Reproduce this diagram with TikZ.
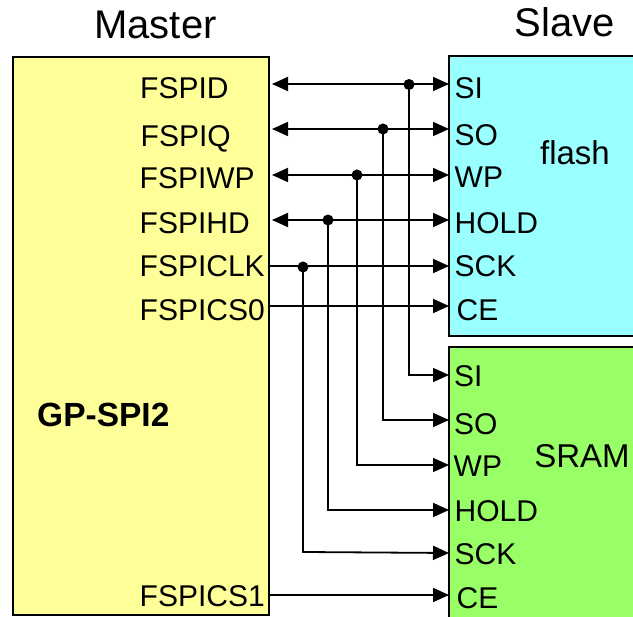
\documentclass[tikz,border=0pt]{standalone}
\usepackage{fontspec}
\setmainfont{Liberation Sans}
\usetikzlibrary{arrows.meta}
\definecolor{mastery}{HTML}{FFFF99}
\definecolor{flashc}{HTML}{99FFFF}
\definecolor{sramc}{HTML}{99FF66}
\tikzset{
 x=1pt,y=-1pt,
 box/.style={draw=black,line width=1.8pt,anchor=north west,inner sep=0,outer sep=0},
 lab/.style={font=\fontsize{30}{30}\selectfont,inner sep=0,text=black},
 mlab/.style={lab,anchor=base west},
 sig/.style={line width=1.8pt,-{Triangle[length=16pt,width=14pt]}},
 bi/.style={line width=1.8pt,{Triangle[length=16pt,width=14pt]}-{Triangle[length=16pt,width=14pt]}},
 dot/.style={circle,fill=black,inner sep=0,minimum size=11pt}
}
\begin{document}
\begin{tikzpicture}
\useasboundingbox (0,0) rectangle (633,617);
\path[box,fill=mastery] (13,57) rectangle (269,615);
\path[box,fill=flashc] (449,56) rectangle (640,336);
\path[box,fill=sramc] (449,347) rectangle (640,625);
\clip (0,0) rectangle (633,617);
\node[lab,font=\fontsize{40}{40}\selectfont] (mt) at (155.5,24.5) {Master};
\node[lab,font=\fontsize{40}{40}\selectfont] (st) at (564.5,22.5) {Slave};
\node[lab,font=\fontsize{33.5}{33.5}\selectfont\bfseries,anchor=base west] (gp) at (37,427) {GP-SPI2};
\node[lab,font=\fontsize{33}{33}\selectfont] (fl) at (575,153) {flash};
\node[lab,font=\fontsize{33}{33}\selectfont] (sr) at (582,456) {SRAM};
\foreach \n/\t/\x/\y in {a/FSPID/140/99,b/FSPIQ/140.5/147,c/FSPIWP/139.5/189,d/FSPIHD/139.5/234,e/FSPICLK/139.5/277,f/FSPICS0/139.5/321,g/FSPICS1/139.5/607}
 \node[mlab] (m\n) at (\x,\y) {\t};
\foreach \n/\t/\x/\y in {a/SI/454.5/99,b/SO/454.5/146,c/WP/454.5/188,d/HOLD/454.5/234,e/SCK/454.5/277,f/CE/456.5/321,
 h/SI/454/387,i/SO/454/434.5,j/WP/453.5/477,k/HOLD/454.5/522,l/SCK/454.5/565,m/CE/456.5/609}
 \node[mlab] (s\n) at (\x,\y) {\t};
\coordinate (la) at (272,84);\coordinate (ra) at (449,84);
\coordinate (lb) at (272,129);\coordinate (rb) at (449,129);
\coordinate (lc) at (272,175);\coordinate (rc) at (449,175);
\coordinate (ld) at (272,220);\coordinate (rd) at (449,220);
\coordinate (le) at (269,266);\coordinate (re) at (449,266);
\coordinate (lf) at (269,306);\coordinate (rf) at (449,306);
\coordinate (lg) at (269,595);\coordinate (rg) at (449,595);
\coordinate (rh) at (449,375);\coordinate (ri) at (449,420);
\coordinate (rj) at (449,465);\coordinate (rk) at (449,510);
\coordinate (rl) at (449,553);
\draw[bi] (la) -- (ra); \draw[bi] (lb) -- (rb); \draw[bi] (lc) -- (rc); \draw[bi] (ld) -- (rd);
\draw[sig] (le) -- (re); \draw[sig] (lf) -- (rf); \draw[sig] (lg) -- (rg);
\node[dot] (da) at (409,84.5) {};
\node[dot] (db) at (383,129) {};
\node[dot] (dc) at (357,175) {};
\node[dot] (dd) at (328,220) {};
\node[dot] (de) at (303,267) {};
\draw[sig] (da.center) |- (rh);
\draw[sig] (db.center) |- (ri);
\draw[sig] (dc.center) |- (rj);
\draw[sig] (dd.center) |- (rk);
\draw[sig] (de.center) -- (303,552) -- (rl);
\end{tikzpicture}
\end{document}
